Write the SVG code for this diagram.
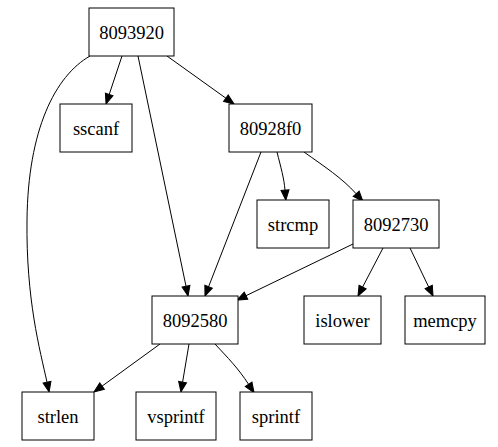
<svg xmlns="http://www.w3.org/2000/svg" width="498" height="447" viewBox="0 0 498 447">
<defs>
<style>
.n rect{fill:#fff;stroke:#000;stroke-width:1}
.n text{font-family:"Liberation Serif","Times New Roman",serif;font-size:18.5px;text-anchor:middle;fill:#000}
.e path{fill:none;stroke:#000;stroke-width:1;marker-end:url(#ah)}
</style>
<marker id="ah" markerUnits="userSpaceOnUse" markerWidth="12" markerHeight="10" refX="0" refY="4" orient="auto" viewBox="0 0 12 8" overflow="visible">
<polygon points="0,0 10,4 0,8" fill="#000" stroke="#000" stroke-width="1"/>
</marker>
</defs>
<rect width="498" height="447" fill="#fff"/>
<g id="edges" class="e">
<path d="M122,56 L109.2,94.5"/>
<path d="M167,56 L225.9,98.2"/>
<path d="M138,56 L186,286.2"/>
<path d="M90,56 C55,76 28,130 27,220 C26,300 40,350 47,382.2"/>
<path d="M261,152 L208.6,286.7"/>
<path d="M277,152 C281,168 284,178 285,190.2"/>
<path d="M304,152 C325,167 342,178 356.2,193.8"/>
<path d="M353,244 L246,295.7"/>
<path d="M383,248 L362.6,287.1"/>
<path d="M410,248 L428.7,287"/>
<path d="M160,344 L102.1,386.1"/>
<path d="M189,344 L182.6,382.1"/>
<path d="M215,344 C228,358 238,368 248.6,384.3"/>
</g>
<g id="n8093920" class="n"><rect x="89" y="8" width="85" height="48"/><text x="131.5" y="38.5">8093920</text></g>
<g id="nsscanf" class="n"><rect x="60" y="104" width="72" height="48"/><text x="96" y="134.5">sscanf</text></g>
<g id="n80928f0" class="n"><rect x="229" y="104" width="83" height="48"/><text x="270.5" y="134.5">80928f0</text></g>
<g id="nstrcmp" class="n"><rect x="257" y="200" width="72" height="48"/><text x="293" y="230.5">strcmp</text></g>
<g id="n8092730" class="n"><rect x="353" y="200" width="86" height="48"/><text x="396" y="230.5">8092730</text></g>
<g id="n8092580" class="n"><rect x="152" y="296" width="86" height="48"/><text x="195" y="326.5">8092580</text></g>
<g id="nislower" class="n"><rect x="304" y="296" width="77" height="48"/><text x="342.5" y="326.5">islower</text></g>
<g id="nmemcpy" class="n"><rect x="405" y="296" width="80" height="48"/><text x="445" y="326.5">memcpy</text></g>
<g id="nstrlen" class="n"><rect x="22" y="392" width="72" height="48"/><text x="58" y="422.5">strlen</text></g>
<g id="nvsprintf" class="n"><rect x="136" y="392" width="80" height="48"/><text x="176" y="422.5">vsprintf</text></g>
<g id="nsprintf" class="n"><rect x="240" y="392" width="72" height="48"/><text x="276" y="422.5">sprintf</text></g>
</svg>
